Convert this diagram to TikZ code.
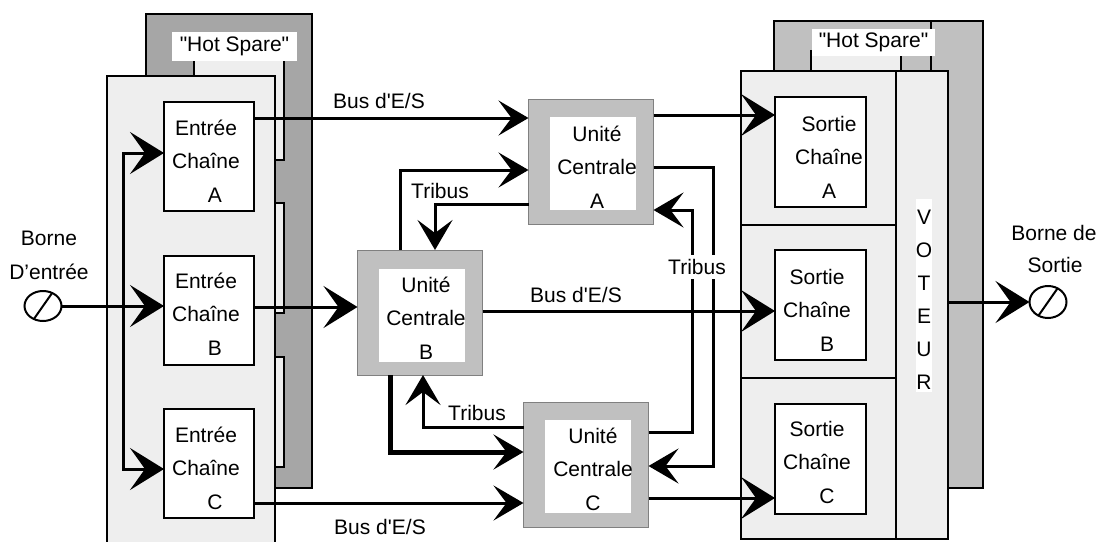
\documentclass[tikz,border=0pt]{standalone}
\usepackage{fontspec}
\setmainfont{Liberation Sans}[Ligatures=TeXOff]
\usetikzlibrary{arrows.meta,shapes.geometric,calc}
\definecolor{backL}{HTML}{A6A6A6}
\definecolor{backR}{HTML}{C0C0C0}
\definecolor{front}{HTML}{EEEEEE}
\definecolor{cpu}{HTML}{C0C0C0}
\definecolor{cpuline}{HTML}{808080}
\begin{document}
\begin{tikzpicture}[x=1pt,y=-1pt,
  every node/.style={font=\fontsize{21}{33.5}\selectfont, inner sep=0pt, outer sep=0pt},
  panel/.style={draw=black, line width=2.5pt},
  edge2/.style={line width=2pt},
  chbox/.style={draw=black, fill=white, line width=2pt, minimum width=90pt, minimum height=109pt},
  sobox/.style={draw=black, fill=white, line width=2pt, minimum width=91pt, minimum height=110pt},
  cpubox/.style={draw=cpuline, fill=cpu, line width=1pt, minimum width=125pt, minimum height=125pt},
  cpuin/.style={fill=white, minimum width=86pt, minimum height=93pt},
  txt/.style={align=center},
  bus/.style={line width=3pt},
  arrM/.style={-{Stealth[length=30pt,width=35pt,inset=13pt]}},
  arrL/.style={-{Stealth[length=34pt,width=42pt,inset=15pt]}},
  borne/.style={ellipse, draw=black, line width=2pt, minimum width=37pt, minimum height=30pt},
]
\useasboundingbox (0,0) rectangle (1103,541);

% ---------- left rack ----------
\draw[panel, fill=backL] (146,14) rectangle (312,488);
\fill[front] (194,61) rectangle (284,160);
\draw[edge2] (194,61) -- (194,76);
\draw[edge2] (284,61) -- (284,160) -- (275,160);
\fill[front] (275,203) rectangle (284,313);
\draw[edge2] (275,203) -- (284,203) -- (284,313) -- (275,313);
\fill[front] (275,357) rectangle (284,467);
\draw[edge2] (275,357) -- (284,357) -- (284,467) -- (275,467);
\node[fill=white, minimum width=125pt, minimum height=29pt] (hsL) at (234.5,46.5) {"Hot Spare"};
\node[panel, fill=front, minimum width=168pt, minimum height=470pt, anchor=north west] (frontL) at (107,76) {};

% ---------- right rack ----------
\draw[panel, fill=backR] (774,21) rectangle (983,488);
\fill[front] (811,50) rectangle (901,71);
\draw[edge2] (811,50) -- (811,71);
\draw[edge2] (901,50) -- (901,71);
\draw[line width=2.5pt] (931,21) -- (931,71);
\node[fill=white, minimum width=123pt, minimum height=27pt] (hsR) at (873.5,42.5) {"Hot Spare"};
\node[panel, fill=front, minimum width=207pt, minimum height=468pt] (frontR) at (844.5,305) {};
\draw[line width=2.5pt] (896,71) -- (896,539);
\draw[line width=2.5pt] (741,225) -- (896,225);
\draw[line width=2.5pt] (741,378) -- (896,378);
\fill[white] (916,199) rectangle (932,392);
\node[txt, font=\fontsize{21}{33}\selectfont] (voteur) at (924,299.5) {V\\O\\T\\E\\U\\R};

% ---------- input channel boxes ----------
\node[chbox] (ea) at (209,156.5) {};
\node[chbox] (eb) at (209,310.5) {};
\node[chbox] (ec) at (209,463.5) {};
\node[txt] (eat) at (206,161) {Entrée\\Chaîne\\\hspace*{18pt}A};
\node[txt] (ebt) at (206,314) {Entrée\\Chaîne\\\hspace*{18pt}B};
\node[txt] (ect) at (206,468) {Entrée\\Chaîne\\\hspace*{18pt}C};

% ---------- output channel boxes ----------
\node[sobox] (sa) at (820.5,152) {};
\node[sobox] (sb) at (820.5,305) {};
\node[sobox] (sc) at (820.5,459) {};
\node[txt] (sat) at (829,157) {Sortie\\Chaîne\\A};
\node[txt] (sbt) at (817,310) {Sortie\\Chaîne\\\hspace*{20pt}B};
\node[txt] (sct) at (817,462) {Sortie\\Chaîne\\\hspace*{20pt}C};

% ---------- central units ----------
\node[cpubox] (ua) at (591,161.5) {};
\node[cpuin] (uai) at (593,163.5) {};
\node[cpubox] (ub) at (420,312.5) {};
\node[cpuin] (ubi) at (422,315) {};
\node[cpubox] (uc) at (586,465) {};
\node[cpuin] (uci) at (587.5,466.5) {};
\node[txt] (uat) at (597,167) {Unité\\Centrale\\A};
\node[txt] (ubt) at (426,318) {Unité\\Centrale\\B};
\node[txt] (uct) at (593,469) {Unité\\Centrale\\C};

% ---------- terminals ----------
\node[borne] (bin) at (43,306) {};
\draw[edge2] (bin.235) -- (bin.55);
\node (lbin1) at (49,238) {Borne};
\node (lbin2) at (49,272) {D’entrée};
\node[borne, minimum height=32pt] (bout) at (1048,302) {};
\draw[edge2] (bout.235) -- (bout.55);
\node (lbout1) at (1054,233) {Borne de};
\node (lbout2) at (1055,265) {Sortie};

% ---------- ports ----------
\coordinate (jn) at (123,306);
\coordinate (eaIn) at ([yshift=3.5pt]ea.west);
\coordinate (ecIn) at ([yshift=-5.5pt]ec.west);
\coordinate (eaOut) at ([yshift=38.5pt]ea.east);
\coordinate (ebOut) at ([yshift=3.5pt]eb.east);
\coordinate (ecOut) at ([yshift=-39.5pt]ec.east);
\coordinate (uaOut) at ([yshift=46.5pt]ua.east);
\coordinate (ubOut) at ([yshift=1.5pt]ub.east);
\coordinate (ucOut) at ([yshift=-33pt]uc.east);
\coordinate (bTop1) at ([xshift=-20pt]ub.north);
\coordinate (aIn1) at ([yshift=-8.5pt]ua.west);
\coordinate (aOut1) at ([yshift=-42.5pt]ua.west);
\coordinate (bTop2) at ([xshift=15pt]ub.north);
\coordinate (aOut2) at ([yshift=-5.5pt]ua.east);
\coordinate (cIn1) at ([yshift=-1pt]uc.east);
\coordinate (cOut1) at ([yshift=33pt]uc.east);
\coordinate (aIn2) at ([yshift=-48.5pt]ua.east);
\coordinate (cOut2) at ([yshift=38pt]uc.west);
\coordinate (bIn1) at ([xshift=3pt]ub.south);
\coordinate (bOut1) at ([xshift=-30pt]ub.south);
\coordinate (cIn2) at ([yshift=13pt]uc.west);
\coordinate (vout) at (bout -| frontR.east);

% ---------- connectors ----------
\draw[bus, arrL] (bin.east) -- (bin.east -| eb.west);
\draw[bus, arrL] (jn) |- (eaIn);
\draw[bus, arrL] (jn) |- (ecIn);
\draw[bus, arrM] (eaOut) -- (eaOut -| ua.west);
\draw[bus, arrL] (ebOut) -- (ebOut -| ub.west);
\draw[bus, arrM] (ecOut) -- (ecOut -| uc.west);
\draw[bus, arrL] (uaOut) -- (uaOut -| sa.west);
\draw[bus, arrL] (ubOut) -- (ubOut -| sb.west);
\draw[bus, arrL] (ucOut) -- (ucOut -| sc.west);
\draw[bus, arrM] (bTop1) |- (aIn1);
\draw[bus, arrM] (aOut1) -| (bTop2);
\draw[bus, arrM] (aOut2) -- ++(60,0) |- (cIn1);
\draw[bus, arrM] (cOut1) -- ++(44,0) |- (aIn2);
\draw[bus, arrM] (cOut2) -| (bIn1);
\draw[line width=5pt, arrM] (bOut1) |- (cIn2);
\draw[bus, arrL] (vout) -- (bout.west);

% ---------- labels ----------
\node (bus1) at (379,101) {Bus d'E/S};
\node (bus2) at (576,295) {Bus d'E/S};
\node (bus3) at (380,527) {Bus d'E/S};
\node (tr1) at (440,191) {Tribus};
\node[fill=white, inner ysep=4pt] (tr2) at (697,267) {Tribus};
\node (tr3) at (477,413) {Tribus};
\end{tikzpicture}
\end{document}
